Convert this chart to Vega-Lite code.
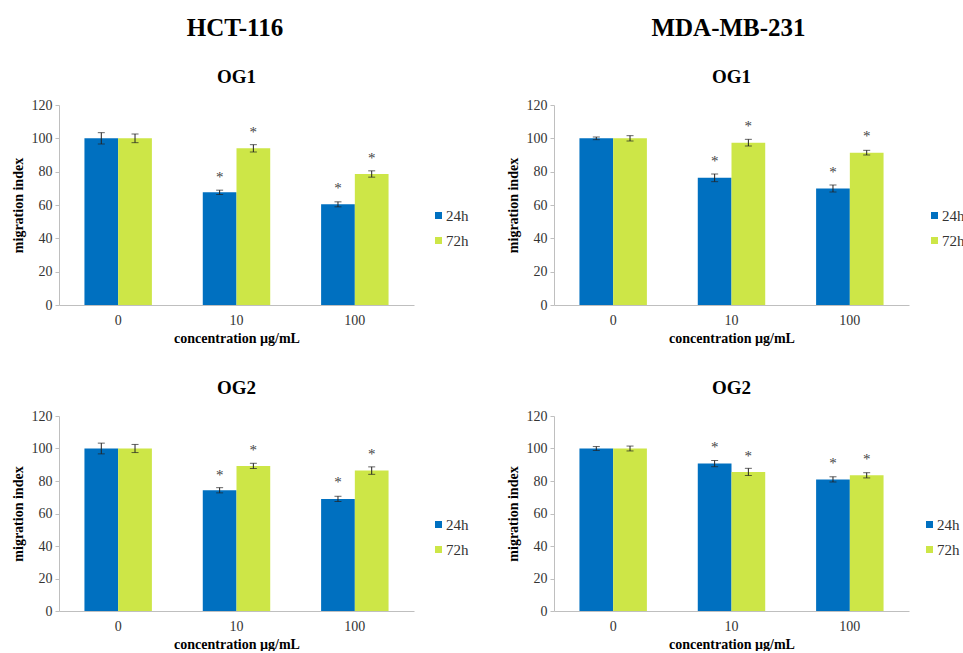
{
  "$schema": "https://vega.github.io/schema/vega-lite/v6.json",
  "padding": {"left": 11, "top": 16, "right": 0, "bottom": 0},
  "background": "white",
  "config": {
    "font": "Liberation Serif",
    "view": {"stroke": null},
    "axis": {"grid": false, "domainColor": "#BFBFBF", "tickColor": "#BFBFBF", "labelColor": "#333333", "labelFontSize": 14, "titleFontSize": 14, "titleFontWeight": "bold", "titleColor": "#000000", "labelFont": "Liberation Serif", "titleFont": "Liberation Serif"},
    "legend": {"labelFont": "Liberation Serif"},
    "text": {"font": "Liberation Serif"},
    "title": {"font": "Liberation Serif", "fontWeight": "bold", "color": "#000000"}
  },
  "data": {"values": [
    {"cell": "HCT-116", "og": "OG1", "conc": "0", "time": "24h", "value": 100, "lo": 96.6, "hi": 103.4, "star": null},
    {"cell": "HCT-116", "og": "OG1", "conc": "0", "time": "72h", "value": 100, "lo": 97.4, "hi": 102.6, "star": null},
    {"cell": "HCT-116", "og": "OG1", "conc": "10", "time": "24h", "value": 67.6, "lo": 66.3, "hi": 68.9, "star": 77},
    {"cell": "HCT-116", "og": "OG1", "conc": "10", "time": "72h", "value": 94.0, "lo": 91.8, "hi": 96.2, "star": 104},
    {"cell": "HCT-116", "og": "OG1", "conc": "100", "time": "24h", "value": 60.4, "lo": 58.9, "hi": 61.9, "star": 70},
    {"cell": "HCT-116", "og": "OG1", "conc": "100", "time": "72h", "value": 78.6, "lo": 76.7, "hi": 80.5, "star": 88},
    {"cell": "MDA-MB-231", "og": "OG1", "conc": "0", "time": "24h", "value": 100, "lo": 99.2, "hi": 100.8, "star": null},
    {"cell": "MDA-MB-231", "og": "OG1", "conc": "0", "time": "72h", "value": 100, "lo": 98.4, "hi": 101.6, "star": null},
    {"cell": "MDA-MB-231", "og": "OG1", "conc": "10", "time": "24h", "value": 76.3, "lo": 74.0, "hi": 78.6, "star": 86.3},
    {"cell": "MDA-MB-231", "og": "OG1", "conc": "10", "time": "72h", "value": 97.4, "lo": 95.4, "hi": 99.4, "star": 107.4},
    {"cell": "MDA-MB-231", "og": "OG1", "conc": "100", "time": "24h", "value": 69.9, "lo": 67.8, "hi": 72.0, "star": 79.7},
    {"cell": "MDA-MB-231", "og": "OG1", "conc": "100", "time": "72h", "value": 91.4, "lo": 90.0, "hi": 92.8, "star": 101.4},
    {"cell": "HCT-116", "og": "OG2", "conc": "0", "time": "24h", "value": 100, "lo": 96.7, "hi": 103.3, "star": null},
    {"cell": "HCT-116", "og": "OG2", "conc": "0", "time": "72h", "value": 100, "lo": 97.5, "hi": 102.5, "star": null},
    {"cell": "HCT-116", "og": "OG2", "conc": "10", "time": "24h", "value": 74.3, "lo": 72.7, "hi": 75.9, "star": 84},
    {"cell": "HCT-116", "og": "OG2", "conc": "10", "time": "72h", "value": 89.3, "lo": 87.7, "hi": 90.9, "star": 99},
    {"cell": "HCT-116", "og": "OG2", "conc": "100", "time": "24h", "value": 69.0, "lo": 67.4, "hi": 70.6, "star": 79.5},
    {"cell": "HCT-116", "og": "OG2", "conc": "100", "time": "72h", "value": 86.4, "lo": 84.1, "hi": 88.7, "star": 96.5},
    {"cell": "MDA-MB-231", "og": "OG2", "conc": "0", "time": "24h", "value": 100, "lo": 98.8, "hi": 101.2, "star": null},
    {"cell": "MDA-MB-231", "og": "OG2", "conc": "0", "time": "72h", "value": 100, "lo": 98.5, "hi": 101.5, "star": null},
    {"cell": "MDA-MB-231", "og": "OG2", "conc": "10", "time": "24h", "value": 90.7, "lo": 88.8, "hi": 92.6, "star": 101},
    {"cell": "MDA-MB-231", "og": "OG2", "conc": "10", "time": "72h", "value": 85.6, "lo": 83.4, "hi": 87.8, "star": 95.5},
    {"cell": "MDA-MB-231", "og": "OG2", "conc": "100", "time": "24h", "value": 81.0, "lo": 79.4, "hi": 82.6, "star": 91.3},
    {"cell": "MDA-MB-231", "og": "OG2", "conc": "100", "time": "72h", "value": 83.5, "lo": 81.9, "hi": 85.1, "star": 93.4}
  ]},
  "resolve": {"legend": {"color": "independent"}},
  "spacing": 37,
  "hconcat": [
    {
      "title": {"text": "HCT-116", "fontSize": 25, "anchor": "middle", "offset": 27, "dx": -5},
      "resolve": {"legend": {"color": "independent"}},
      "spacing": 34,
      "vconcat": [
        {
          "title": {"text": "OG1", "fontSize": 19, "offset": 11},
          "width": 355, "height": 200,
          "transform": [{"filter": {"and": [{"field": "cell", "equal": "HCT-116"}, {"field": "og", "equal": "OG1"}]}}],
          "encoding": {
            "x": {"field": "conc", "type": "nominal", "sort": ["0", "10", "100"], "scale": {"paddingInner": 0.43, "paddingOuter": 0.215}, "title": "concentration µg/mL", "axis": {"ticks": false, "labelAngle": 0, "labelPadding": 8, "titlePadding": 4}},
            "xOffset": {"field": "time", "type": "nominal", "sort": ["24h", "72h"]}
          },
          "layer": [
            {"mark": {"type": "bar"}, "encoding": {
              "y": {"field": "value", "type": "quantitative", "scale": {"domain": [0, 120]}, "title": "migration index", "axis": {"values": [0, 20, 40, 60, 80, 100, 120], "tickCount": 7, "tickSize": 4, "labelPadding": 3, "titlePadding": 6}},
              "color": {"field": "time", "type": "nominal", "scale": {"domain": ["24h", "72h"], "range": ["#0070C0", "#CDE647"]}, "legend": {"orient": "none", "legendX": 372, "legendY": 103, "title": null, "symbolType": "square", "symbolSize": 49, "labelFontSize": 15, "labelFont": "Liberation Serif", "labelColor": "#333333", "rowPadding": 9, "symbolStrokeWidth": 0, "labelOffset": 0}}
            }},
            {"mark": {"type": "rule", "color": "#222222", "strokeWidth": 1}, "encoding": {"y": {"field": "lo", "type": "quantitative", "title": "migration index", "axis": {"values": [0, 20, 40, 60, 80, 100, 120], "tickCount": 7, "tickSize": 4, "labelPadding": 3, "titlePadding": 6}}, "y2": {"field": "hi"}}},
            {"mark": {"type": "tick", "color": "#222222", "thickness": 1, "size": 7, "orient": "horizontal"}, "encoding": {"y": {"field": "lo", "type": "quantitative", "title": "migration index", "axis": {"values": [0, 20, 40, 60, 80, 100, 120], "tickCount": 7, "tickSize": 4, "labelPadding": 3, "titlePadding": 6}}}},
            {"mark": {"type": "tick", "color": "#222222", "thickness": 1, "size": 7, "orient": "horizontal"}, "encoding": {"y": {"field": "hi", "type": "quantitative", "title": "migration index", "axis": {"values": [0, 20, 40, 60, 80, 100, 120], "tickCount": 7, "tickSize": 4, "labelPadding": 3, "titlePadding": 6}}}},
            {"transform": [{"filter": "isValid(datum.star)"}], "mark": {"type": "text", "text": "*", "fontSize": 15, "fill": "#444444", "font": "Liberation Serif", "baseline": "middle", "dy": 0}, "encoding": {"y": {"field": "star", "type": "quantitative", "title": "migration index", "axis": {"values": [0, 20, 40, 60, 80, 100, 120], "tickCount": 7, "tickSize": 4, "labelPadding": 3, "titlePadding": 6}}}}
          ]
        },
        {
          "title": {"text": "OG2", "fontSize": 19, "offset": 11},
          "width": 355, "height": 195,
          "transform": [{"filter": {"and": [{"field": "cell", "equal": "HCT-116"}, {"field": "og", "equal": "OG2"}]}}],
          "encoding": {
            "x": {"field": "conc", "type": "nominal", "sort": ["0", "10", "100"], "scale": {"paddingInner": 0.43, "paddingOuter": 0.215}, "title": "concentration µg/mL", "axis": {"ticks": false, "labelAngle": 0, "labelPadding": 8, "titlePadding": 4}},
            "xOffset": {"field": "time", "type": "nominal", "sort": ["24h", "72h"]}
          },
          "layer": [
            {"mark": {"type": "bar"}, "encoding": {
              "y": {"field": "value", "type": "quantitative", "scale": {"domain": [0, 120]}, "title": "migration index", "axis": {"values": [0, 20, 40, 60, 80, 100, 120], "tickCount": 7, "tickSize": 4, "labelPadding": 3, "titlePadding": 6}},
              "color": {"field": "time", "type": "nominal", "scale": {"domain": ["24h", "72h"], "range": ["#0070C0", "#CDE647"]}, "legend": {"orient": "none", "legendX": 372, "legendY": 101, "title": null, "symbolType": "square", "symbolSize": 49, "labelFontSize": 15, "labelFont": "Liberation Serif", "labelColor": "#333333", "rowPadding": 9, "symbolStrokeWidth": 0, "labelOffset": 0}}
            }},
            {"mark": {"type": "rule", "color": "#222222", "strokeWidth": 1}, "encoding": {"y": {"field": "lo", "type": "quantitative", "title": "migration index", "axis": {"values": [0, 20, 40, 60, 80, 100, 120], "tickCount": 7, "tickSize": 4, "labelPadding": 3, "titlePadding": 6}}, "y2": {"field": "hi"}}},
            {"mark": {"type": "tick", "color": "#222222", "thickness": 1, "size": 7, "orient": "horizontal"}, "encoding": {"y": {"field": "lo", "type": "quantitative", "title": "migration index", "axis": {"values": [0, 20, 40, 60, 80, 100, 120], "tickCount": 7, "tickSize": 4, "labelPadding": 3, "titlePadding": 6}}}},
            {"mark": {"type": "tick", "color": "#222222", "thickness": 1, "size": 7, "orient": "horizontal"}, "encoding": {"y": {"field": "hi", "type": "quantitative", "title": "migration index", "axis": {"values": [0, 20, 40, 60, 80, 100, 120], "tickCount": 7, "tickSize": 4, "labelPadding": 3, "titlePadding": 6}}}},
            {"transform": [{"filter": "isValid(datum.star)"}], "mark": {"type": "text", "text": "*", "fontSize": 15, "fill": "#444444", "font": "Liberation Serif", "baseline": "middle", "dy": 0}, "encoding": {"y": {"field": "star", "type": "quantitative", "title": "migration index", "axis": {"values": [0, 20, 40, 60, 80, 100, 120], "tickCount": 7, "tickSize": 4, "labelPadding": 3, "titlePadding": 6}}}}
          ]
        }
      ]
    },
    {
      "title": {"text": "MDA-MB-231", "fontSize": 25, "anchor": "middle", "offset": 27, "dx": -7},
      "resolve": {"legend": {"color": "independent"}},
      "spacing": 34,
      "vconcat": [
        {
          "title": {"text": "OG1", "fontSize": 19, "offset": 11},
          "width": 355, "height": 200,
          "transform": [{"filter": {"and": [{"field": "cell", "equal": "MDA-MB-231"}, {"field": "og", "equal": "OG1"}]}}],
          "encoding": {
            "x": {"field": "conc", "type": "nominal", "sort": ["0", "10", "100"], "scale": {"paddingInner": 0.43, "paddingOuter": 0.215}, "title": "concentration µg/mL", "axis": {"ticks": false, "labelAngle": 0, "labelPadding": 8, "titlePadding": 4}},
            "xOffset": {"field": "time", "type": "nominal", "sort": ["24h", "72h"]}
          },
          "layer": [
            {"mark": {"type": "bar"}, "encoding": {
              "y": {"field": "value", "type": "quantitative", "scale": {"domain": [0, 120]}, "title": "migration index", "axis": {"values": [0, 20, 40, 60, 80, 100, 120], "tickCount": 7, "tickSize": 4, "labelPadding": 3, "titlePadding": 6}},
              "color": {"field": "time", "type": "nominal", "scale": {"domain": ["24h", "72h"], "range": ["#0070C0", "#CDE647"]}, "legend": {"orient": "none", "legendX": 373, "legendY": 103, "title": null, "symbolType": "square", "symbolSize": 49, "labelFontSize": 15, "labelFont": "Liberation Serif", "labelColor": "#333333", "rowPadding": 9, "symbolStrokeWidth": 0, "labelOffset": 0}}
            }},
            {"mark": {"type": "rule", "color": "#222222", "strokeWidth": 1}, "encoding": {"y": {"field": "lo", "type": "quantitative", "title": "migration index", "axis": {"values": [0, 20, 40, 60, 80, 100, 120], "tickCount": 7, "tickSize": 4, "labelPadding": 3, "titlePadding": 6}}, "y2": {"field": "hi"}}},
            {"mark": {"type": "tick", "color": "#222222", "thickness": 1, "size": 7, "orient": "horizontal"}, "encoding": {"y": {"field": "lo", "type": "quantitative", "title": "migration index", "axis": {"values": [0, 20, 40, 60, 80, 100, 120], "tickCount": 7, "tickSize": 4, "labelPadding": 3, "titlePadding": 6}}}},
            {"mark": {"type": "tick", "color": "#222222", "thickness": 1, "size": 7, "orient": "horizontal"}, "encoding": {"y": {"field": "hi", "type": "quantitative", "title": "migration index", "axis": {"values": [0, 20, 40, 60, 80, 100, 120], "tickCount": 7, "tickSize": 4, "labelPadding": 3, "titlePadding": 6}}}},
            {"transform": [{"filter": "isValid(datum.star)"}], "mark": {"type": "text", "text": "*", "fontSize": 15, "fill": "#444444", "font": "Liberation Serif", "baseline": "middle", "dy": 0}, "encoding": {"y": {"field": "star", "type": "quantitative", "title": "migration index", "axis": {"values": [0, 20, 40, 60, 80, 100, 120], "tickCount": 7, "tickSize": 4, "labelPadding": 3, "titlePadding": 6}}}}
          ]
        },
        {
          "title": {"text": "OG2", "fontSize": 19, "offset": 11},
          "width": 355, "height": 195,
          "transform": [{"filter": {"and": [{"field": "cell", "equal": "MDA-MB-231"}, {"field": "og", "equal": "OG2"}]}}],
          "encoding": {
            "x": {"field": "conc", "type": "nominal", "sort": ["0", "10", "100"], "scale": {"paddingInner": 0.43, "paddingOuter": 0.215}, "title": "concentration µg/mL", "axis": {"ticks": false, "labelAngle": 0, "labelPadding": 8, "titlePadding": 4}},
            "xOffset": {"field": "time", "type": "nominal", "sort": ["24h", "72h"]}
          },
          "layer": [
            {"mark": {"type": "bar"}, "encoding": {
              "y": {"field": "value", "type": "quantitative", "scale": {"domain": [0, 120]}, "title": "migration index", "axis": {"values": [0, 20, 40, 60, 80, 100, 120], "tickCount": 7, "tickSize": 4, "labelPadding": 3, "titlePadding": 6}},
              "color": {"field": "time", "type": "nominal", "scale": {"domain": ["24h", "72h"], "range": ["#0070C0", "#CDE647"]}, "legend": {"orient": "none", "legendX": 368, "legendY": 101, "title": null, "symbolType": "square", "symbolSize": 49, "labelFontSize": 15, "labelFont": "Liberation Serif", "labelColor": "#333333", "rowPadding": 9, "symbolStrokeWidth": 0, "labelOffset": 0}}
            }},
            {"mark": {"type": "rule", "color": "#222222", "strokeWidth": 1}, "encoding": {"y": {"field": "lo", "type": "quantitative", "title": "migration index", "axis": {"values": [0, 20, 40, 60, 80, 100, 120], "tickCount": 7, "tickSize": 4, "labelPadding": 3, "titlePadding": 6}}, "y2": {"field": "hi"}}},
            {"mark": {"type": "tick", "color": "#222222", "thickness": 1, "size": 7, "orient": "horizontal"}, "encoding": {"y": {"field": "lo", "type": "quantitative", "title": "migration index", "axis": {"values": [0, 20, 40, 60, 80, 100, 120], "tickCount": 7, "tickSize": 4, "labelPadding": 3, "titlePadding": 6}}}},
            {"mark": {"type": "tick", "color": "#222222", "thickness": 1, "size": 7, "orient": "horizontal"}, "encoding": {"y": {"field": "hi", "type": "quantitative", "title": "migration index", "axis": {"values": [0, 20, 40, 60, 80, 100, 120], "tickCount": 7, "tickSize": 4, "labelPadding": 3, "titlePadding": 6}}}},
            {"transform": [{"filter": "isValid(datum.star)"}], "mark": {"type": "text", "text": "*", "fontSize": 15, "fill": "#444444", "font": "Liberation Serif", "baseline": "middle", "dy": 0}, "encoding": {"y": {"field": "star", "type": "quantitative", "title": "migration index", "axis": {"values": [0, 20, 40, 60, 80, 100, 120], "tickCount": 7, "tickSize": 4, "labelPadding": 3, "titlePadding": 6}}}}
          ]
        }
      ]
    }
  ]
}
